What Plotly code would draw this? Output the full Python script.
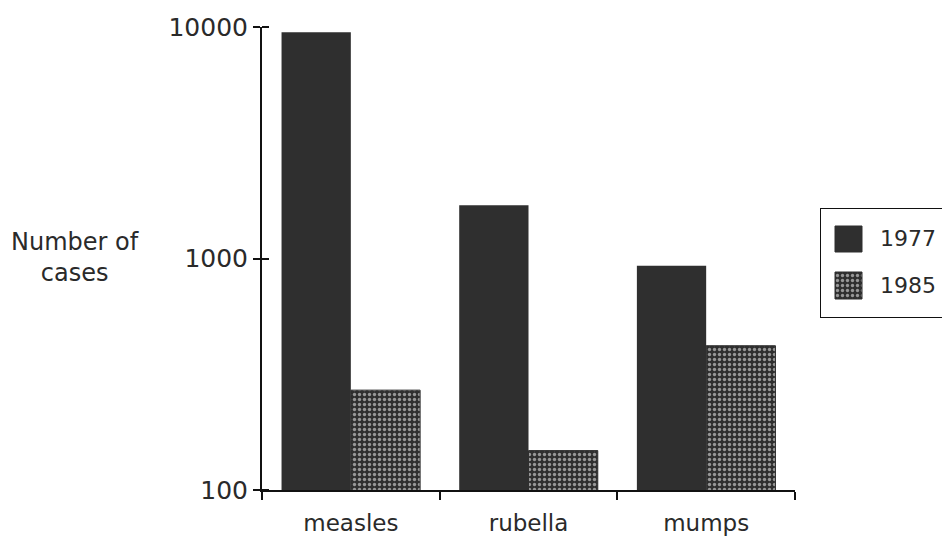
import plotly.graph_objects as go

categories = ["measles", "rubella", "mumps"]
cases_1977 = [9500, 1700, 930]
cases_1985 = [270, 148, 420]
y_tick_values = [100, 1000, 10000]
y_tick_labels = ["100", "1000", "10000"]
series_names = ["1977", "1985"]

font_family = "DejaVu Sans, Liberation Sans, Arial, sans-serif"
dark = "#2f2f2f"
text_color = "#2a2a2a"
dot_pattern = dict(shape=".", fgcolor="white", bgcolor=dark,
                   size=5, solidity=0.35, fillmode="overlay")

FIG_W, FIG_H = 942, 528
M_L, M_T, M_B = 254, 19, 46
PAPER_W = FIG_W - M_L
PAPER_H = FIG_H - M_T - M_B

# legend layout (in a small overlay axis measured in pixels)
LEG_W, LEG_H = 130, 110
swatch_x = [15, 42]
swatch_y = {"1977": [66, 92], "1985": [19, 46]}
label_x = 58

fig = go.Figure()
fig.add_trace(go.Bar(
    x=categories, y=cases_1977, name=series_names[0], showlegend=False,
    marker=dict(color=dark, line=dict(width=0)),
))
fig.add_trace(go.Bar(
    x=categories, y=cases_1985, name=series_names[1], showlegend=False,
    marker=dict(color=dark, line=dict(color=dark, width=1),
                pattern=dot_pattern),
))

# legend swatches
for name in series_names:
    x0, x1 = swatch_x
    y0, y1 = swatch_y[name]
    kw = dict(fillcolor=dark)
    if name == "1985":
        kw["fillpattern"] = dot_pattern
    fig.add_trace(go.Scatter(
        x=[x0, x1, x1, x0, x0], y=[y0, y0, y1, y1, y0],
        xaxis="x2", yaxis="y2", mode="lines", fill="toself",
        line=dict(color=dark, width=1), showlegend=False,
        hoverinfo="skip", **kw,
    ))

annotations = [dict(
    text="Number of<br>cases", xref="paper", yref="paper",
    x=(67 - M_L) / PAPER_W, y=0.503, xanchor="center", yanchor="middle",
    showarrow=False, font=dict(size=24), align="center",
)]
for name in series_names:
    y0, y1 = swatch_y[name]
    annotations.append(dict(
        text=name, xref="x2", yref="y2", x=label_x, y=(y0 + y1) / 2,
        xanchor="left", yanchor="middle", showarrow=False,
        font=dict(size=22),
    ))

# legend frame: open on the right side (cut off by the page edge)
far = LEG_W + 60
frame_path = f"M {far},0 L 0,0 L 0,{LEG_H} L {far},{LEG_H}"

fig.update_layout(
    width=FIG_W, height=FIG_H,
    margin=dict(l=M_L, r=0, t=M_T, b=M_B),
    paper_bgcolor="white", plot_bgcolor="rgba(0,0,0,0)",
    barmode="group", bargap=0.22, bargroupgap=0,
    font=dict(family=font_family, size=22, color=text_color),
    showlegend=False,
    xaxis=dict(
        type="category", domain=[0, 533 / PAPER_W],
        showline=True, linecolor="#111", linewidth=2,
        ticks="outside", tickson="boundaries", ticklen=8, tickwidth=2,
        tickcolor="#111", showgrid=False, zeroline=False,
        ticklabelstandoff=11, tickfont=dict(size=23),
    ),
    yaxis=dict(
        type="log", range=[2, 4], showline=True, linecolor="#111",
        linewidth=2, ticks="outside", ticklen=7, tickwidth=2,
        tickcolor="#111", tickvals=y_tick_values, ticktext=y_tick_labels,
        showgrid=False, zeroline=False, tickfont=dict(size=25),
        minor=dict(ticks="inside", ticklen=7, tickwidth=2, tickcolor="#111",
                   tickvals=y_tick_values, showgrid=False),
    ),
    xaxis2=dict(domain=[(812 - M_L) / PAPER_W, 1.0], range=[0, LEG_W],
                visible=False, fixedrange=True, anchor="y2"),
    yaxis2=dict(domain=[172 / PAPER_H, 282 / PAPER_H], range=[0, LEG_H],
                visible=False, fixedrange=True, anchor="x2"),
    shapes=[dict(type="path", xref="x2", yref="y2", path=frame_path,
                 line=dict(color="#111", width=2),
                 fillcolor="rgba(0,0,0,0)", layer="below")],
    annotations=annotations,
)

fig.write_html("out.html")
